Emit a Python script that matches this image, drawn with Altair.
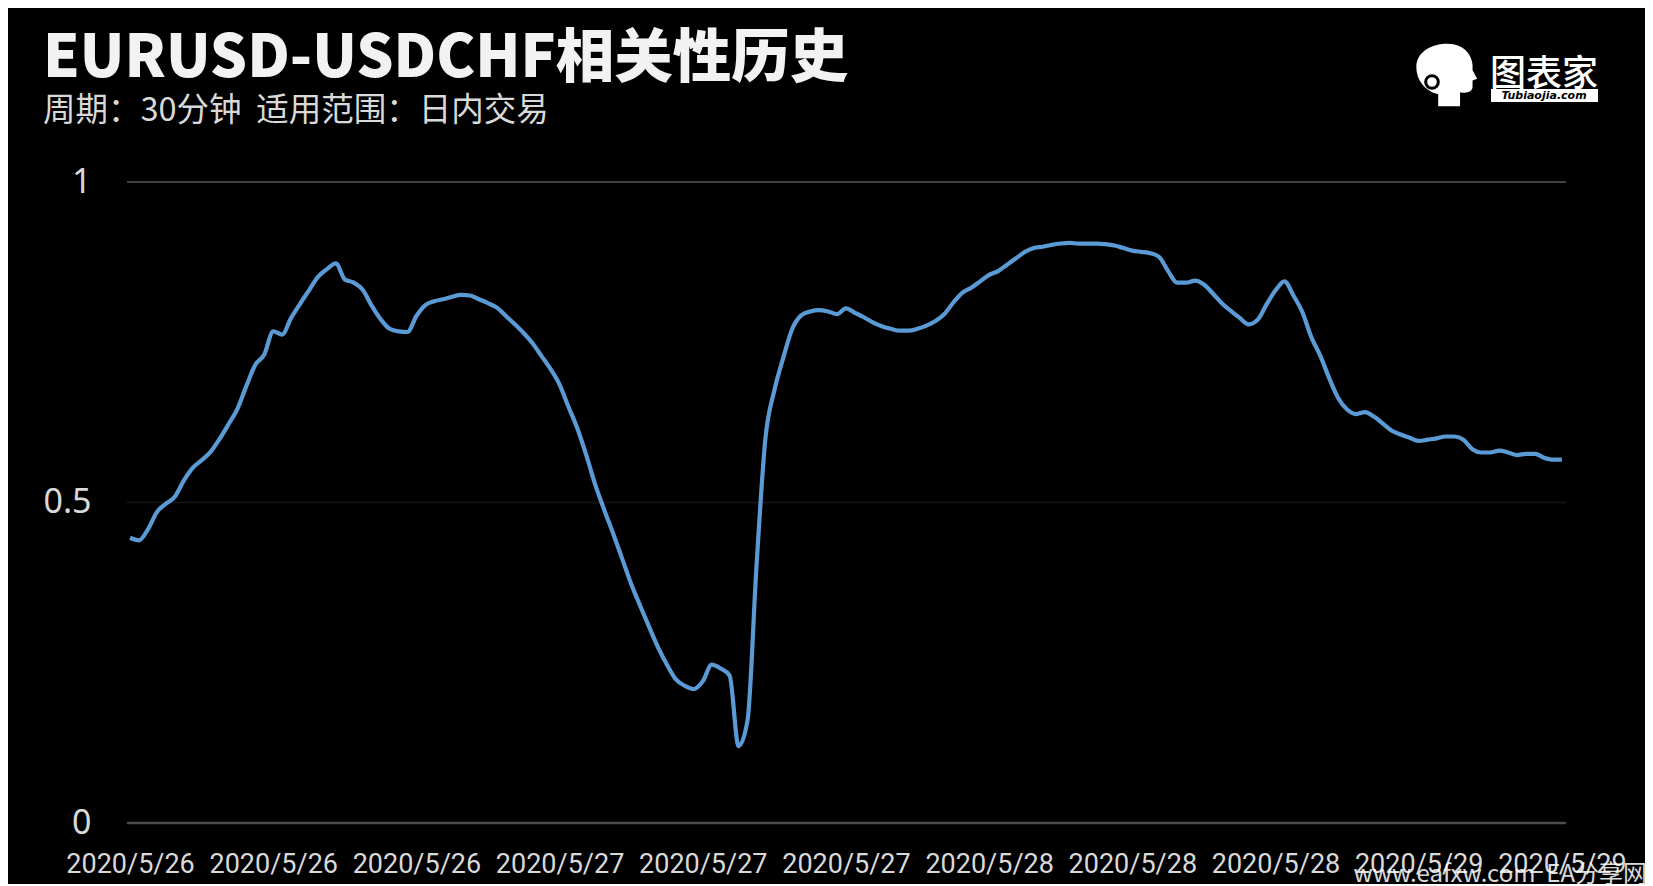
import altair as alt
import pandas as pd

corr = [
    0.445, 0.441, 0.458, 0.485, 0.498, 0.509, 0.534, 0.554, 0.566, 0.579,
    0.599, 0.622, 0.646, 0.682, 0.715, 0.731, 0.767, 0.762, 0.788, 0.810,
    0.831, 0.852, 0.864, 0.873, 0.848, 0.843, 0.832, 0.807, 0.786, 0.771,
    0.767, 0.766, 0.791, 0.808, 0.814, 0.817, 0.821, 0.824, 0.823, 0.817,
    0.811, 0.804, 0.791, 0.778, 0.764, 0.748, 0.728, 0.708, 0.684, 0.649,
    0.615, 0.573, 0.527, 0.488, 0.451, 0.412, 0.373, 0.339, 0.306, 0.274,
    0.247, 0.224, 0.214, 0.209, 0.221, 0.247, 0.241, 0.230, 0.120, 0.160,
    0.400, 0.600, 0.675, 0.726, 0.771, 0.792, 0.798, 0.800, 0.798, 0.794,
    0.803, 0.796, 0.789, 0.781, 0.775, 0.771, 0.768, 0.768, 0.771, 0.776,
    0.783, 0.794, 0.812, 0.827, 0.835, 0.845, 0.855, 0.861, 0.871, 0.881,
    0.891, 0.897, 0.899, 0.902, 0.904, 0.905, 0.904, 0.904, 0.904, 0.903,
    0.901, 0.897, 0.893, 0.891, 0.889, 0.883, 0.861, 0.843, 0.843, 0.846,
    0.840, 0.826, 0.811, 0.799, 0.788, 0.778, 0.785, 0.809, 0.831, 0.845,
    0.823, 0.797, 0.758, 0.729, 0.694, 0.663, 0.645, 0.638, 0.641, 0.634,
    0.623, 0.612, 0.606, 0.601, 0.596, 0.598, 0.600, 0.603, 0.603, 0.598,
    0.583, 0.578, 0.578, 0.581, 0.578, 0.574, 0.576, 0.576, 0.570, 0.567,
    0.567,
]
idx = list(range(len(corr)))
tick_idx = [0, 16, 32, 48, 64, 80, 96, 112, 128, 144, 160]
tick_labels = ["2020/5/26", "2020/5/26", "2020/5/26",
               "2020/5/27", "2020/5/27", "2020/5/27",
               "2020/5/28", "2020/5/28", "2020/5/28",
               "2020/5/29", "2020/5/29"]
y_ticks = [0, 0.5, 1]
title_text = "EURUSD-USDCHF相关性历史"
subtitle_text = "周期：30分钟\u00a0\u00a0适用范围：日内交易"
logo_text = "图表家"
logo_sub = "Tubiaojia.com"
watermark = "www.eafxw.com\u00a0\u00a0EA分享网"

df = pd.DataFrame({"i": idx, "v": corr})

W, H = 1439, 641
xscale = alt.Scale(domain=[-0.34, 160.46], nice=False, zero=False)
yscale = alt.Scale(domain=[0, 1], nice=False)
label_js = "[" + ",".join(f"'{s}'" for s in tick_labels) + "]"

line = alt.Chart(df).mark_line(
    color="#5B9BD5", strokeWidth=4.2, interpolate="monotone"
).encode(
    x=alt.X("i:Q", scale=xscale, axis=alt.Axis(
        values=tick_idx, labelExpr=f"{label_js}[round(datum.value/16)]",
        domain=False, ticks=False, grid=False, title=None,
        labelFont="Roboto", labelFontSize=27,
        labelColor="#d9d9d9", labelPadding=28, labelOverlap=False,
        labelFlush=False)),
    y=alt.Y("v:Q", scale=yscale, axis=alt.Axis(
        values=y_ticks, format="~g", domain=False, ticks=False, grid=False,
        title=None, labelFont="Noto Sans", labelFontSize=34,
        labelColor="#d9d9d9", labelPadding=36)),
)

def hrule(val, color, width):
    return alt.Chart(pd.DataFrame({"y": [val]})).mark_rule(
        color=color, strokeWidth=width
    ).encode(y=alt.Y("y:Q", scale=yscale))

rules = [hrule(y_ticks[2], "#595959", 1.3),
         hrule(y_ticks[1], "#161616", 1.5),
         hrule(y_ticks[0], "#4d4d4d", 2.5)]

def text_layer(txt, x, y, size, color, font, weight="normal", align="left",
               baseline="alphabetic", style="normal", opacity=1.0):
    return alt.Chart(pd.DataFrame({"t": [txt]})).mark_text(
        align=align, baseline=baseline, fontSize=size, font=font,
        fontWeight=weight, color=color, fontStyle=style, opacity=opacity
    ).encode(text="t:N", x=alt.value(x), y=alt.value(y))

title = text_layer(title_text, -84, -105, 58.5, "#f2f2f2", "Noto Sans CJK SC", weight=900)
subtitle = text_layer(subtitle_text, -84, -61, 32.5, "#d9d9d9", "Noto Sans CJK SC")

head_path = ("M -0.25,1 L -0.25,0.62 C -0.7,0.5 -0.95,0.15 -0.95,-0.25 "
             "C -0.95,-0.75 -0.45,-1 0.05,-1 C 0.6,-1 0.9,-0.6 0.85,-0.15 "
             "L 1,0.12 L 0.85,0.18 L 0.85,0.38 C 0.85,0.55 0.65,0.6 0.45,0.55 "
             "L 0.45,1 Z")
head = alt.Chart(pd.DataFrame({"h": [0]})).mark_point(
    filled=True, shape=head_path, size=3900, color="#ffffff", opacity=1
).encode(x=alt.value(1319), y=alt.value(-107))
ear = alt.Chart(pd.DataFrame({"h": [0]})).mark_point(
    filled=False, shape="circle", size=160, color="#000000", strokeWidth=3,
    opacity=1
).encode(x=alt.value(1305), y=alt.value(-100))
logo = text_layer(logo_text, 1363, -96, 36, "#ffffff", "Noto Sans CJK SC", weight=500)
logo_box = alt.Chart(pd.DataFrame({"b": [0]})).mark_rect(color="#ffffff").encode(
    x=alt.value(1364), x2=alt.value(1471), y=alt.value(-93), y2=alt.value(-80))
logo_small = text_layer(logo_sub, 1417, -83, 11, "#000000", "DejaVu Sans",
                        weight="bold", align="center", style="italic")
wm = text_layer(watermark, 1520, 700, 24, "#ffffff", "Noto Sans CJK SC",
                align="right", opacity=0.85)

chart = alt.layer(
    *rules, line, title, subtitle, head, ear, logo, logo_box, logo_small, wm
).properties(
    width=W, height=H,
    autosize=alt.AutoSizeParams(type="none"),
    padding={"left": 119, "top": 174, "right": 79, "bottom": 61},
    background="#000000",
).configure_view(stroke=None)

chart.save("out.html", embed_options={"renderer": "svg", "actions": False})
